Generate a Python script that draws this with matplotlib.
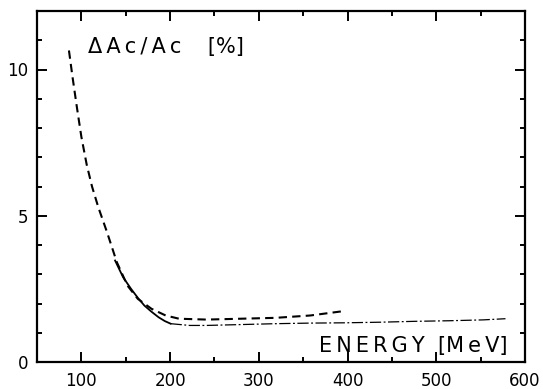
import matplotlib
matplotlib.use("Agg")
import matplotlib.pyplot as plt
from matplotlib.ticker import MultipleLocator

# dashed curve
dash_E = [86, 90, 95, 100, 106, 112, 119, 129, 140, 152, 163.6, 179, 195, 210, 241, 280, 319, 358, 393]
dash_y = [10.65, 9.75, 8.7, 7.7, 6.75, 6.0, 5.3, 4.43, 3.41, 2.61, 2.16, 1.82, 1.59, 1.48, 1.45, 1.48, 1.51, 1.59, 1.73]
# solid curve
solid_E = [138, 147, 156, 164, 171, 179, 187, 194, 200.6]
solid_y = [3.47, 2.9, 2.5, 2.18, 1.93, 1.72, 1.53, 1.4, 1.31]
# dash-dot continuation
dd_E = [200.6, 222, 241, 280, 319, 358, 397, 436, 475, 514, 553, 578]
dd_y = [1.31, 1.25, 1.25, 1.28, 1.31, 1.33, 1.34, 1.36, 1.39, 1.41, 1.44, 1.48]

xticks = [100, 200, 300, 400, 500, 600]
yticks = [0, 5, 10]

fig = plt.figure(figsize=(5.43, 3.89), dpi=100)
L, R, T, B = 37, 525, 11, 362
ax = fig.add_axes([L/543, 1-B/389, (R-L)/543, (B-T)/389])

ax.plot(dash_E, dash_y, color="black", lw=1.5, ls=(0, (4, 2.5)))
ax.plot(solid_E, solid_y, color="black", lw=1.3, ls="-")
ax.plot(dd_E, dd_y, color="black", lw=0.9, ls=(0, (9, 2, 1.5, 2)))

ax.set_xlim(50, 600)
ax.set_ylim(0, 12)
ax.set_xticks(xticks)
ax.set_yticks(yticks)
ax.xaxis.set_minor_locator(MultipleLocator(50))
ax.yaxis.set_minor_locator(MultipleLocator(1))
ax.tick_params(which="both", direction="in", top=True, right=True, width=1.4,
               labelsize=12)
ax.tick_params(which="major", length=7)
ax.tick_params(which="minor", length=3.6)
ax.tick_params(axis="x", pad=7)
ax.tick_params(axis="y", pad=6)
for s in ax.spines.values():
    s.set_linewidth(1.6)

ax.text(107, 10.56, "Δ\u2009A\u2009c\u2009/\u2009A\u2009c    [%]", fontsize=15,
        family="DejaVu Sans", ha="left", va="baseline")
ax.text(580, 0.34, "E\u2009N\u2009E\u2009R\u2009G\u2009Y  [M\u2009e\u2009V]", fontsize=15,
        family="DejaVu Sans", ha="right", va="baseline")

fig.savefig("out.png", dpi=100)
